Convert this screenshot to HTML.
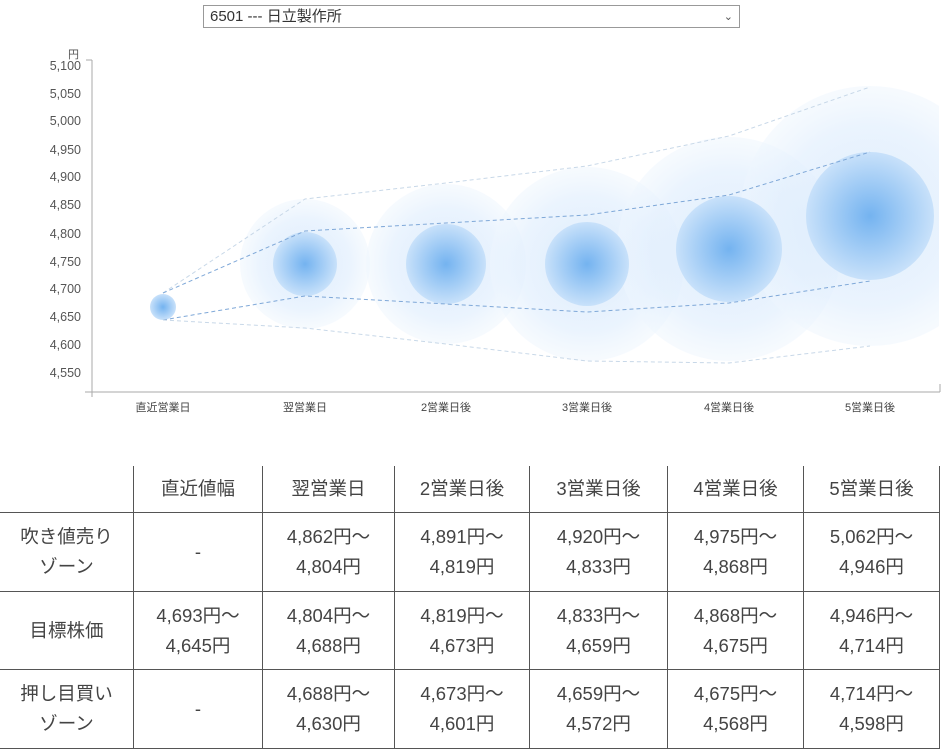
<!DOCTYPE html>
<html><head><meta charset="utf-8"><style>
body{margin:0;width:944px;height:751px;background:#fff;overflow:hidden;font-family:"Liberation Sans","Noto Sans CJK JP",sans-serif;color:#333}
.sel{position:absolute;left:203px;top:5px;width:537px;height:23px;border:1px solid #999;font-size:15px;line-height:22px;padding-left:6px;box-sizing:border-box;color:#333}
.sel span{position:absolute;right:6px;top:0;font-size:11px;color:#555}
svg{position:absolute;left:0;top:0}
table{position:absolute;left:0;top:466px;border-collapse:collapse;font-size:18.5px;color:#444}
td{border:1px solid #555;text-align:center;line-height:30px;padding:0}
tr:first-child td{border-top:none;height:46px}
td:first-child{border-left:none}
td:last-child{border-right:1px solid #555}
</style></head><body>
<div class="sel">6501 --- 日立製作所<span>&#8964;</span></div>
<svg width="944" height="460">
<defs>
<radialGradient id="gi"><stop offset="0" stop-color="#74b3f0"/><stop offset="1" stop-color="#c8e1fa"/></radialGradient>
<radialGradient id="go"><stop offset="0" stop-color="#d6e8fc" stop-opacity="0.85"/><stop offset="0.7" stop-color="#e2effd" stop-opacity="0.7"/><stop offset="1" stop-color="#eef6fe" stop-opacity="0.5"/></radialGradient>
<clipPath id="c"><rect x="93" y="40" width="846" height="352"/></clipPath>
</defs>
<g clip-path="url(#c)">
<circle cx="305" cy="264" r="65" fill="url(#go)"/>
<circle cx="446" cy="264" r="80" fill="url(#go)"/>
<circle cx="587" cy="264" r="97" fill="url(#go)"/>
<circle cx="729" cy="249" r="112" fill="url(#go)"/>
<circle cx="870" cy="216" r="130" fill="url(#go)"/>
<circle cx="305" cy="264" r="32" fill="url(#gi)"/>
<circle cx="446" cy="264" r="40" fill="url(#gi)"/>
<circle cx="587" cy="264" r="42" fill="url(#gi)"/>
<circle cx="729" cy="249" r="53" fill="url(#gi)"/>
<circle cx="870" cy="216" r="64" fill="url(#gi)"/>
<circle cx="163" cy="307" r="13" fill="url(#gi)"/>
<g fill="none" stroke-dasharray="4,3" stroke-width="1">
<polyline stroke="#c8d8e8" points="163,293 305,199 446,183 587,166 729,136 870,87"/>
<polyline stroke="#7fa8d8" points="163,293 305,231 446,223 587,215 729,195 870,152"/>
<polyline stroke="#7fa8d8" points="163,320 305,296 446,304 587,312 729,303 870,281"/>
<polyline stroke="#c8d8e8" points="163,320 305,328 446,344 587,361 729,363 870,346"/>
</g>
</g>
<g stroke="#aaa" fill="none"><path d="M92 60V397M85 392H940M86 60H92M940 392V384"/></g>
<g font-size="12.5" fill="#555" text-anchor="end">
<text x="81" y="70">5,100</text><text x="81" y="98">5,050</text><text x="81" y="125">5,000</text><text x="81" y="154">4,950</text><text x="81" y="181">4,900</text><text x="81" y="209">4,850</text><text x="81" y="238">4,800</text><text x="81" y="266">4,750</text><text x="81" y="293">4,700</text><text x="81" y="321">4,650</text><text x="81" y="349">4,600</text><text x="81" y="377">4,550</text>
<text x="79" y="58" font-size="11">円</text>
</g>
<g font-size="11" fill="#444" text-anchor="middle">
<text x="163" y="411">直近営業日</text><text x="305" y="411">翌営業日</text><text x="446" y="411">2営業日後</text><text x="587" y="411">3営業日後</text><text x="729" y="411">4営業日後</text><text x="870" y="411">5営業日後</text>
</g>
</svg>
<table>
<tr><td style="width:133px"></td><td style="width:128px">直近値幅</td><td style="width:131px">翌営業日</td><td style="width:134px">2営業日後</td><td style="width:137px">3営業日後</td><td style="width:135px">4営業日後</td><td style="width:135px">5営業日後</td></tr>
<tr style="height:79px"><td>吹き値売り<br>ゾーン</td><td>-</td><td>4,862円～<br>4,804円</td><td>4,891円～<br>4,819円</td><td>4,920円～<br>4,833円</td><td>4,975円～<br>4,868円</td><td>5,062円～<br>4,946円</td></tr>
<tr style="height:78px"><td>目標株価</td><td>4,693円～<br>4,645円</td><td>4,804円～<br>4,688円</td><td>4,819円～<br>4,673円</td><td>4,833円～<br>4,659円</td><td>4,868円～<br>4,675円</td><td>4,946円～<br>4,714円</td></tr>
<tr style="height:79px"><td>押し目買い<br>ゾーン</td><td>-</td><td>4,688円～<br>4,630円</td><td>4,673円～<br>4,601円</td><td>4,659円～<br>4,572円</td><td>4,675円～<br>4,568円</td><td>4,714円～<br>4,598円</td></tr>
</table>
</body></html>
